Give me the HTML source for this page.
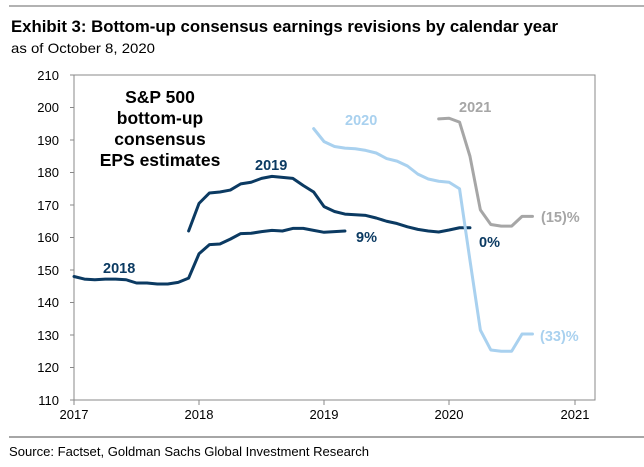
<!DOCTYPE html>
<html><head><meta charset="utf-8"><style>
body{margin:0;background:#fff;font-family:"Liberation Sans",Arial,sans-serif;}
</style></head><body>
<svg width="644" height="462" xmlns="http://www.w3.org/2000/svg" font-family="Liberation Sans, Arial, sans-serif">
<rect width="644" height="462" fill="#fff"/>
<line x1="9" y1="6" x2="644" y2="6" stroke="#999" stroke-width="1.5"/>
<text x="11" y="32" font-size="16.8" font-weight="bold" fill="#000" textLength="547" lengthAdjust="spacingAndGlyphs">Exhibit 3: Bottom-up consensus earnings revisions by calendar year</text>
<text x="11" y="53" font-size="14" fill="#000" textLength="144" lengthAdjust="spacingAndGlyphs">as of October 8, 2020</text>
<rect x="74" y="75" width="521" height="325" fill="none" stroke="#888" stroke-width="1"/>
<g font-size="13" fill="#000" text-anchor="end">
<text x="59" y="80">210</text><text x="59" y="112">200</text><text x="59" y="145">190</text><text x="59" y="177">180</text><text x="59" y="210">170</text><text x="59" y="242">160</text><text x="59" y="275">150</text><text x="59" y="307">140</text><text x="59" y="340">130</text><text x="59" y="372">120</text><text x="59" y="405">110</text>
</g>
<g stroke="#888" stroke-width="1">
<line x1="70" y1="75" x2="74" y2="75"/><line x1="70" y1="107.5" x2="74" y2="107.5"/><line x1="70" y1="140" x2="74" y2="140"/><line x1="70" y1="172.5" x2="74" y2="172.5"/><line x1="70" y1="205" x2="74" y2="205"/><line x1="70" y1="237.5" x2="74" y2="237.5"/><line x1="70" y1="270" x2="74" y2="270"/><line x1="70" y1="302.5" x2="74" y2="302.5"/><line x1="70" y1="335" x2="74" y2="335"/><line x1="70" y1="367.5" x2="74" y2="367.5"/><line x1="70" y1="400" x2="74" y2="400"/>
<line x1="74" y1="400" x2="74" y2="405"/><line x1="199" y1="400" x2="199" y2="405"/><line x1="324" y1="400" x2="324" y2="405"/><line x1="449" y1="400" x2="449" y2="405"/><line x1="575" y1="400" x2="575" y2="405"/>
</g>
<g font-size="13" fill="#000" text-anchor="middle">
<text x="74" y="419">2017</text><text x="199" y="419">2018</text><text x="324" y="419">2019</text><text x="449" y="419">2020</text><text x="575" y="419">2021</text>
</g>
<g transform="translate(74,400) scale(10.42,-3.25)" fill="none" stroke-linejoin="round" stroke-linecap="round">
<polyline vector-effect="non-scaling-stroke" stroke="#0b3a62" stroke-width="3" points="0,38 1,37.2 2,37 3,37.2 4,37.2 5,37 6,36 7,36 8,35.7 9,35.7 10,36.2 11,37.5 12,45 13,47.8 14,48 15,49.5 16,51.2 17,51.3 18,51.8 19,52.2 20,52 21,52.8 22,52.8 23,52.2 24,51.6 25,51.8 26,52"/>
<polyline vector-effect="non-scaling-stroke" stroke="#0b3a62" stroke-width="3" points="11,52 12,60.5 13,63.7 14,64 15,64.6 16,66.5 17,67 18,68.2 19,68.8 20,68.5 21,68.2 22,66 23,64 24,59.5 25,58 26,57.2 27,57 28,56.8 29,56 30,55 31,54.3 32,53.3 33,52.5 34,52 35,51.7 36,52.3 37,53 38,53"/>
<polyline vector-effect="non-scaling-stroke" stroke="#a9d1ef" stroke-width="3" points="23,83.5 24,79.5 25,78 26,77.5 27,77.3 28,76.8 29,76 30,74.3 31,73.5 32,72 33,69.5 34,68 35,67.3 36,67 37,65 38,43 39,21.5 40,15.4 41,15 42,15 43,20.3 44,20.3"/>
<polyline vector-effect="non-scaling-stroke" stroke="#a6a6a6" stroke-width="3" points="35,86.5 36,86.7 37,85.5 38,75 39,58.5 40,54 41,53.5 42,53.5 43,56.5 44,56.5"/>
</g>
<g font-weight="bold">
<text x="160" y="103" font-size="17.5" text-anchor="middle" fill="#000">S&amp;P 500</text>
<text x="160" y="124" font-size="17.5" text-anchor="middle" fill="#000">bottom-up</text>
<text x="160" y="145" font-size="17.5" text-anchor="middle" fill="#000">consensus</text>
<text x="160" y="166" font-size="17.5" text-anchor="middle" fill="#000">EPS estimates</text>
<text x="103" y="273" font-size="14.5" fill="#0b3a62">2018</text>
<text x="255" y="170" font-size="14.5" fill="#0b3a62">2019</text>
<text x="345" y="125" font-size="14.5" fill="#a9d1ef">2020</text>
<text x="459" y="112" font-size="14.5" fill="#a6a6a6">2021</text>
<text x="356" y="242" font-size="14.5" fill="#0b3a62">9%</text>
<text x="479" y="247" font-size="14.5" fill="#0b3a62">0%</text>
<text x="541" y="222" font-size="14.5" fill="#a6a6a6">(15)%</text>
<text x="540" y="341" font-size="14.5" fill="#a9d1ef">(33)%</text>
</g>
<line x1="9" y1="437" x2="644" y2="437" stroke="#888" stroke-width="1.5"/>
<text x="9" y="456" font-size="13" fill="#000" textLength="360" lengthAdjust="spacingAndGlyphs">Source: Factset, Goldman Sachs Global Investment Research</text>
</svg>
</body></html>
